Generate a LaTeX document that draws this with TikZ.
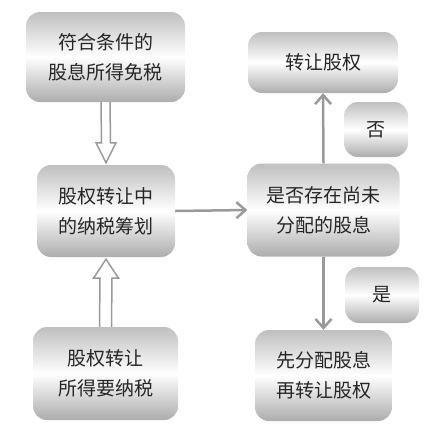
\documentclass[tikz,border=0pt]{standalone}
\usepackage{fontspec}
\newfontfamily\cjk{Noto Sans CJK SC}
\usetikzlibrary{arrows.meta,calc}
\begin{document}
\begin{tikzpicture}[x=1pt,y=-1pt,
  box/.style={rounded corners=14pt,top color=gray!50,bottom color=gray!65,middle color=white,
    align=center,inner sep=0pt,text=black!85,font=\cjk\fontsize{19}{30}\selectfont},
  link/.style={draw=gray!80,line width=2.5pt,-{Straight Barb[length=9pt,width=16pt]}},
  hollow/.style={draw=gray!80,line width=1.5pt,fill=white,line join=miter}]
\useasboundingbox (0,0) rectangle (438,429);
%Left column
\node (exempt) at (105.5,57) [box,minimum width=159pt,minimum height=90pt] {符合条件的\\股息所得免税};
\node (plan) at (106,211) [box,minimum width=138pt,minimum height=92pt] {股权转让中\\的纳税筹划};
\node (tax) at (105.5,373.5) [box,minimum width=145pt,minimum height=93pt] {股权转让\\所得要纳税};
%Right column
\node (sell) at (323,62.5) [box,minimum width=150pt,minimum height=61pt] {转让股权};
\node (no) at (376,129.5) [box,minimum width=64pt,minimum height=55pt] {否};
\node (ask) at (323.5,210) [box,minimum width=152pt,minimum height=93pt] {是否存在尚未\\分配的股息};
\node (yes) at (382,295) [box,minimum width=74pt,minimum height=56pt] {是};
\node (first) at (323.5,375.5) [box,minimum width=137pt,minimum height=91pt] {先分配股息\\再转让股权};
%Hollow arrows
\draw[hollow] ($(exempt.south)+(-4.5,0)$) -- ($(plan.north)+(-4.5,-22)$) -- ($(plan.north)+(-10,-22)$)
  -- ($(plan.north)+(0,-2)$) -- ($(plan.north)+(10,-22)$) -- ($(plan.north)+(4.5,-22)$) -- ($(exempt.south)+(4.5,0)$);
\draw[hollow] ($(tax.north)+(-6,0)$) -- ($(plan.south)+(-6,21)$) -- ($(plan.south)+(-12.5,21)$)
  -- ($(plan.south)+(0,2)$) -- ($(plan.south)+(12.5,21)$) -- ($(plan.south)+(6,21)$) -- ($(tax.north)+(6,0)$);
%Arrows
\draw[link] (plan.east) -- (ask.west);
\draw[link] (ask.north) -- (sell.south);
\draw[link] (ask.south) -- (first.north);
\end{tikzpicture}
\end{document}
